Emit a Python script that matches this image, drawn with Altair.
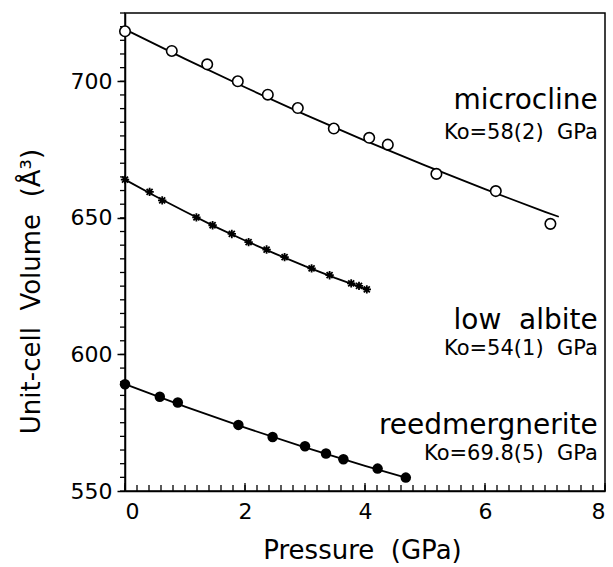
import altair as alt
import pandas as pd

FONT = "DejaVu Sans"
NB = "\u00a0"

# ---- data ----
mic_p = [0, 0.78, 1.37, 1.88, 2.38, 2.88, 3.48, 4.07, 4.38, 5.19, 6.18, 7.09]
mic_v = [718.3, 711.1, 706.2, 700.0, 695.1, 690.2, 682.7, 679.3, 676.8, 666.1, 659.8, 647.8]
mic_fit_p = [0, 1, 2, 3, 4, 5, 6, 7, 7.23]
mic_fit_v = [719.0, 708.2, 697.8, 687.8, 678.3, 669.2, 660.5, 652.2, 650.4]

alb_p = [0, 0.41, 0.62, 1.19, 1.46, 1.78, 2.06, 2.36, 2.66, 3.11, 3.41, 3.77, 3.90, 4.03]
alb_v = [664.0, 659.5, 656.4, 650.2, 647.3, 644.1, 641.1, 638.4, 635.6, 631.5, 629.0, 626.0, 625.1, 623.8]
alb_fit_p = [0, 0.5, 1, 1.5, 2, 2.5, 3, 3.5, 4.03]
alb_fit_v = [664.0, 658.0, 652.3, 646.8, 641.7, 636.9, 632.3, 628.0, 623.8]

ree_p = [0, 0.58, 0.88, 1.89, 2.46, 3.00, 3.35, 3.64, 4.21, 4.68]
ree_v = [589.1, 584.5, 582.4, 574.2, 569.8, 566.4, 563.7, 561.6, 558.2, 554.9]
ree_fit_p = [0, 1, 2, 3, 4, 4.68]
ree_fit_v = [589.1, 580.9, 573.2, 566.0, 559.2, 554.9]

x_ticks = [0, 2, 4, 6, 8]
y_ticks = [550, 600, 650, 700]
x_minor = [round(i * 0.2, 1) for i in range(41)]
y_minor = list(range(550, 726, 5))

label_text = ["microcline", "Ko=58(2)" + NB * 2 + "GPa", "low" + NB * 2 + "albite",
              "Ko=54(1)" + NB * 2 + "GPa", "reedmergnerite", "Ko=69.8(5)" + NB * 2 + "GPa"]
label_p = [7.88, 7.88, 7.88, 7.88, 7.88, 7.88]
label_v = [692.8, 681.1, 612.2, 602.0, 573.8, 563.5]
label_size = [28, 21, 28, 21, 28, 21]

W, H = 480, 478
xs = alt.Scale(domain=[0, 8], nice=False, zero=False)
ys = alt.Scale(domain=[550, 725], nice=False, zero=False)

def df(p, v):
    return pd.DataFrame({"p": p, "v": v})

x_axis = alt.Axis(values=x_ticks, ticks=False, grid=False, labelFont=FONT, labelFontSize=22,
                  labelPadding=10, labelColor="black", domainColor="black", domainWidth=1.5,
                  title="Pressure" + NB * 2 + "(GPa)", titleFont=FONT, titleFontSize=26,
                  titleFontWeight="normal", titleColor="black", titleBaseline="alphabetic",
                  titleY=67, titleX=W / 2 - 3)
y_axis = alt.Axis(values=y_ticks, tickSize=8, tickWidth=1.5, tickColor="black", grid=False,
                  labelFont=FONT, labelFontSize=22, labelPadding=5, labelColor="black",
                  domainColor="black", domainWidth=1.5,
                  title="Unit-cell" + NB * 2 + "Volume" + NB * 2 + "(Å³)", titleFont=FONT,
                  titleFontSize=26, titleFontWeight="normal", titleColor="black", titleAngle=270,
                  titleAlign="center", titleBaseline="middle", titleX=-94, titleY=278)

ax = alt.X("p:Q", scale=xs, axis=x_axis)
ay = alt.Y("v:Q", scale=ys, axis=y_axis)

mic_line = alt.Chart(df(mic_fit_p, mic_fit_v)).mark_line(color="black", strokeWidth=1.8).encode(x=ax, y=ay)
alb_line = alt.Chart(df(alb_fit_p, alb_fit_v)).mark_line(color="black", strokeWidth=1.8).encode(x=ax, y=ay)
ree_line = alt.Chart(df(ree_fit_p, ree_fit_v)).mark_line(color="black", strokeWidth=1.8).encode(x=ax, y=ay)

mic_pts = alt.Chart(df(mic_p, mic_v)).mark_point(shape="circle", filled=True, fill="white",
                                                 stroke="black", strokeWidth=1.6, size=110,
                                                 opacity=1).encode(x=ax, y=ay)
asterisk = "M-1,0L1,0M0,-1L0,1M-0.72,-0.72L0.72,0.72M-0.72,0.72L0.72,-0.72"
alb_pts = alt.Chart(df(alb_p, alb_v)).mark_point(shape=asterisk, filled=False, stroke="black",
                                                 strokeWidth=1.8, size=70, opacity=1).encode(x=ax, y=ay)
ree_pts = alt.Chart(df(ree_p, ree_v)).mark_point(shape="circle", filled=True, color="black",
                                                 size=110, opacity=1).encode(x=ax, y=ay)

xminor = alt.Chart(pd.DataFrame({"p": x_minor})).mark_rule(color="black", strokeWidth=1.3).encode(
    x=ax, y=alt.value(H), y2=alt.value(H - 6))
xmajor = alt.Chart(pd.DataFrame({"p": x_ticks})).mark_rule(color="black", strokeWidth=1.3).encode(
    x=ax, y=alt.value(H), y2=alt.value(H - 8))
yminor = alt.Chart(pd.DataFrame({"v": y_minor})).mark_rule(color="black", strokeWidth=1.3).encode(
    y=ay, x=alt.value(-5), x2=alt.value(0))

labels = alt.Chart(pd.DataFrame({"p": label_p, "v": label_v, "t": label_text, "s": label_size})).mark_text(
    font=FONT, align="right", baseline="middle", color="black").encode(
    x=ax, y=ay, text="t:N", size=alt.Size("s:Q", scale=None, legend=None))

chart = alt.layer(mic_line, alb_line, ree_line, xminor, xmajor, yminor,
                  mic_pts, alb_pts, ree_pts, labels).properties(
    width=W, height=H,
    autosize=alt.AutoSizeParams(type="none"),
    padding={"left": 125, "top": 13, "right": 8, "bottom": 76},
    background="white",
).configure_view(stroke="black", strokeWidth=1.5)

chart.save("out.html", embed_options={"renderer": "svg", "actions": False})
